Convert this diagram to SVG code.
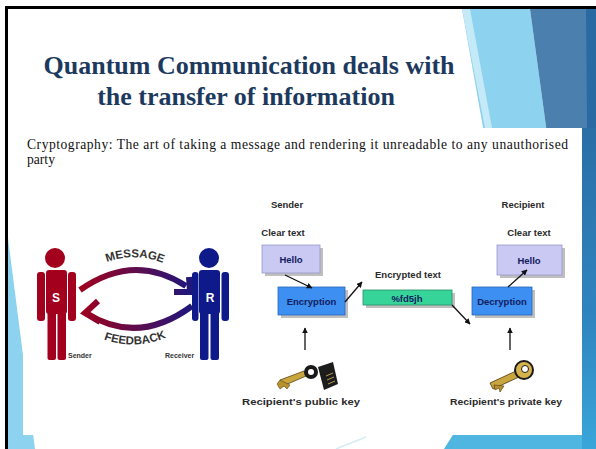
<svg xmlns="http://www.w3.org/2000/svg" width="596" height="449" viewBox="0 0 596 449">
  <defs>
    <style>
      .title { font-family: "Liberation Serif", "Times New Roman", serif; font-weight: bold; font-size: 26px; fill: #1d3a5e; }
      .body { font-family: "Liberation Serif", "Times New Roman", serif; font-size: 13.6px; fill: #111; }
      .lbl { font-family: "Liberation Sans", Arial, sans-serif; font-weight: bold; font-size: 9.5px; fill: #2a2a2a; }
      .inbox { font-family: "Liberation Sans", Arial, sans-serif; font-weight: bold; font-size: 9.5px; fill: #122060; }
      .tiny { font-family: "Liberation Sans", Arial, sans-serif; font-weight: bold; font-size: 7px; fill: #333; }
      .arcTxt { font-family: "Liberation Sans", Arial, sans-serif; font-weight: bold; font-size: 11.5px; fill: #333; }
      .shadow { fill: #8a8a8a; opacity: 0.55; }
      .conn { stroke: #111; stroke-width: 1.3; fill: none; marker-end: url(#head); }
    </style>
    <marker id="head" viewBox="0 0 10 10" refX="9" refY="5" markerWidth="4.5" markerHeight="4.5" orient="auto">
      <path d="M0,0 L10,5 L0,10 z" fill="#111"/>
    </marker>
    <linearGradient id="flow" gradientUnits="userSpaceOnUse" x1="80" y1="0" x2="195" y2="0">
      <stop offset="0" stop-color="#a0001c"/>
      <stop offset="1" stop-color="#1a1880"/>
    </linearGradient>
    <linearGradient id="rightStrip" x1="0" y1="0" x2="0" y2="1">
      <stop offset="0" stop-color="#2a6ea6"/>
      <stop offset="0.6" stop-color="#2f85c0"/>
      <stop offset="1" stop-color="#3aa6da"/>
    </linearGradient>
    <path id="msgPath" d="M 98 266 Q 134 248 172 267"/>
    <path id="fbPath" d="M 98 337 Q 134 353 172 335"/>
  </defs>

  <!-- slide background -->
  <rect x="0" y="0" width="596" height="449" fill="#ffffff"/>

  <!-- slide decoration -->
  <g id="decor">
    <polygon points="462,9 530,9 590,449 540,449" fill="#8dd2ee"/>
    <polygon points="462,9 470,9 492,128 485,128" fill="#c4eaf7"/>
    <polygon points="530,9 596,9 596,449 590,449" fill="#4a7fae"/>
    <polygon points="586,9 596,9 596,449 590,449" fill="#2a6aa2"/>
    <polygon points="8,238 35,449 8,449" fill="#8dd2ee"/>
    <polygon points="444,449 456,430 596,430 596,449" fill="#4fb6e2"/>
    <line x1="336" y1="449" x2="366" y2="437" stroke="#d4ebf5" stroke-width="1.5"/>
  </g>

  <!-- frame -->
  <rect x="5" y="6" width="591" height="3" fill="#000"/>
  <rect x="5" y="6" width="3" height="443" fill="#000"/>

  <!-- content panel -->
  <rect x="582" y="128" width="14" height="321" fill="url(#rightStrip)"/>
  <rect x="23" y="128" width="559" height="307" fill="#ffffff"/>

  <!-- title -->
  <g id="title">
    <text class="title" x="249" y="74" text-anchor="middle">Quantum Communication deals with</text>
    <text class="title" x="246" y="105" text-anchor="middle">the transfer of information</text>
  </g>

  <!-- definition -->
  <g id="definition">
    <text class="body" x="27" y="149" textLength="541" lengthAdjust="spacing">Cryptography:  The art of taking a message and rendering it unreadable to any unauthorised</text>
    <text class="body" x="27" y="164">party</text>
  </g>

  <!-- sender / receiver pictogram -->
  <g id="sender-figure" fill="#a3001e">
    <circle cx="55" cy="258" r="10"/>
    <rect x="46" y="270" width="21" height="44" rx="3"/>
    <rect x="37" y="272" width="8" height="49" rx="3"/>
    <rect x="68" y="272" width="8" height="49" rx="3"/>
    <rect x="47.5" y="308" width="8.5" height="52" rx="2"/>
    <rect x="57.5" y="308" width="8.5" height="52" rx="2"/>
    <text x="56" y="302" text-anchor="middle" font-family="Liberation Sans, Arial, sans-serif" font-weight="bold" font-size="12" fill="#ffffff">S</text>
  </g>
  <g id="receiver-figure" fill="#0f1a8a">
    <circle cx="209" cy="258" r="10"/>
    <rect x="199" y="270" width="21" height="44" rx="3"/>
    <rect x="192" y="272" width="6.5" height="49" rx="3"/>
    <rect x="221.5" y="272" width="7.5" height="49" rx="3"/>
    <rect x="200" y="308" width="8.5" height="52" rx="2"/>
    <rect x="210.5" y="308" width="8.5" height="52" rx="2"/>
    <text x="210" y="302" text-anchor="middle" font-family="Liberation Sans, Arial, sans-serif" font-weight="bold" font-size="12" fill="#ffffff">R</text>
  </g>
  <g id="flows" fill="none" stroke="url(#flow)" stroke-width="6" stroke-linecap="butt" stroke-linejoin="miter">
    <path d="M 80 290 Q 134 252 186 286"/>
    <polyline points="174,292 190,292 189,277"/>
    <path d="M 192 306 Q 138 346 86 313"/>
    <polyline points="98,301 85,313 100,322"/>
  </g>
  <g id="flow-labels">
    <text class="arcTxt"><textPath href="#msgPath" startOffset="50%" text-anchor="middle">MESSAGE</textPath></text>
    <text class="arcTxt"><textPath href="#fbPath" startOffset="50%" text-anchor="middle">FEEDBACK</textPath></text>
    <text class="tiny" x="68" y="358">Sender</text>
    <text class="tiny" x="165" y="358">Receiver</text>
  </g>

  <!-- encryption scheme -->
  <g id="sender-heading">
    <text class="lbl" x="287" y="208" text-anchor="middle">Sender</text>
    <text class="lbl" x="283" y="236" text-anchor="middle">Clear text</text>
  </g>
  <g id="hello-left">
    <rect class="shadow" x="265" y="248" width="58" height="28"/>
    <rect x="262" y="245" width="58" height="28" fill="#c9c9f3" stroke="#9a9acb" stroke-width="0.8"/>
    <text class="inbox" x="291" y="263" text-anchor="middle">Hello</text>
  </g>
  <g id="encryption">
    <rect class="shadow" x="281" y="290" width="67" height="28"/>
    <rect x="278" y="287" width="67" height="28" fill="#3d8ff2" stroke="#2a66b8" stroke-width="0.8"/>
    <text class="inbox" x="311.5" y="304.5" text-anchor="middle">Encryption</text>
  </g>
  <g id="ciphertext">
    <text class="lbl" x="408" y="278" text-anchor="middle">Encrypted text</text>
    <rect class="shadow" x="366" y="293" width="89" height="15"/>
    <rect x="363" y="290" width="89" height="15" fill="#37d49a" stroke="#249068" stroke-width="0.8"/>
    <text class="inbox" x="407" y="301.5" text-anchor="middle" fill="#1c3a30">%fd5jh</text>
  </g>
  <g id="decryption">
    <rect class="shadow" x="475" y="290" width="60" height="28"/>
    <rect x="472" y="287" width="60" height="28" fill="#3d8ff2" stroke="#2a66b8" stroke-width="0.8"/>
    <text class="inbox" x="502" y="304.5" text-anchor="middle">Decryption</text>
  </g>
  <g id="recipient-heading">
    <text class="lbl" x="523" y="208" text-anchor="middle">Recipient</text>
    <text class="lbl" x="529" y="236" text-anchor="middle">Clear text</text>
  </g>
  <g id="hello-right">
    <rect class="shadow" x="500" y="248" width="65" height="30"/>
    <rect x="497" y="245" width="65" height="30" fill="#c9c9f3" stroke="#9a9acb" stroke-width="0.8"/>
    <text class="inbox" x="529" y="263.5" text-anchor="middle">Hello</text>
  </g>

  <!-- public key -->
  <g id="public-key">
    <path d="M 280 380 L 304 371 L 306 376 L 283 386 Z" fill="#c9a640" stroke="#5a4410" stroke-width="0.8"/>
    <path d="M 280 380 L 277 384 L 280 389 L 284 386 L 287 389 L 290 385 Z" fill="#b8922e" stroke="#5a4410" stroke-width="0.6"/>
    <circle cx="311" cy="372" r="7" fill="#1a1a1a"/>
    <circle cx="311" cy="372" r="3" fill="#ffffff"/>
    <path d="M 318 367 L 333 362 L 338 384 L 324 390 Z" fill="#1c1c1c"/>
    <path d="M 326 376 L 333 373 M 327 380 L 334 377 M 328 384 L 335 381" stroke="#b89a50" stroke-width="1"/>
    <text class="lbl" x="301" y="405" text-anchor="middle" textLength="118" lengthAdjust="spacingAndGlyphs">Recipient's public key</text>
  </g>

  <!-- private key -->
  <g id="private-key">
    <path d="M 490 383 L 516 371 L 519 377 L 493 389 Z" fill="#c9a640" stroke="#4a3808" stroke-width="0.8"/>
    <path d="M 494 385 L 495 390 L 499 388 L 500 392 L 504 386 Z" fill="#b8922e" stroke="#4a3808" stroke-width="0.6"/>
    <circle cx="524" cy="370" r="9" fill="#d6b24a" stroke="#1a1a1a" stroke-width="2"/>
    <circle cx="525" cy="369" r="3.5" fill="#ffffff" stroke="#1a1a1a" stroke-width="1"/>
    <text class="lbl" x="506" y="405" text-anchor="middle" textLength="112" lengthAdjust="spacingAndGlyphs">Recipient's private key</text>
  </g>

  <!-- connectors -->
  <g id="connectors">
    <line class="conn" x1="285" y1="275" x2="312" y2="288"/>
    <line class="conn" x1="345" y1="302" x2="362" y2="282"/>
    <line class="conn" x1="452" y1="305" x2="470" y2="324"/>
    <line class="conn" x1="508" y1="287" x2="527" y2="270"/>
    <line class="conn" x1="305" y1="350" x2="305" y2="328"/>
    <line class="conn" x1="510" y1="350" x2="510" y2="328"/>
  </g>
</svg>
